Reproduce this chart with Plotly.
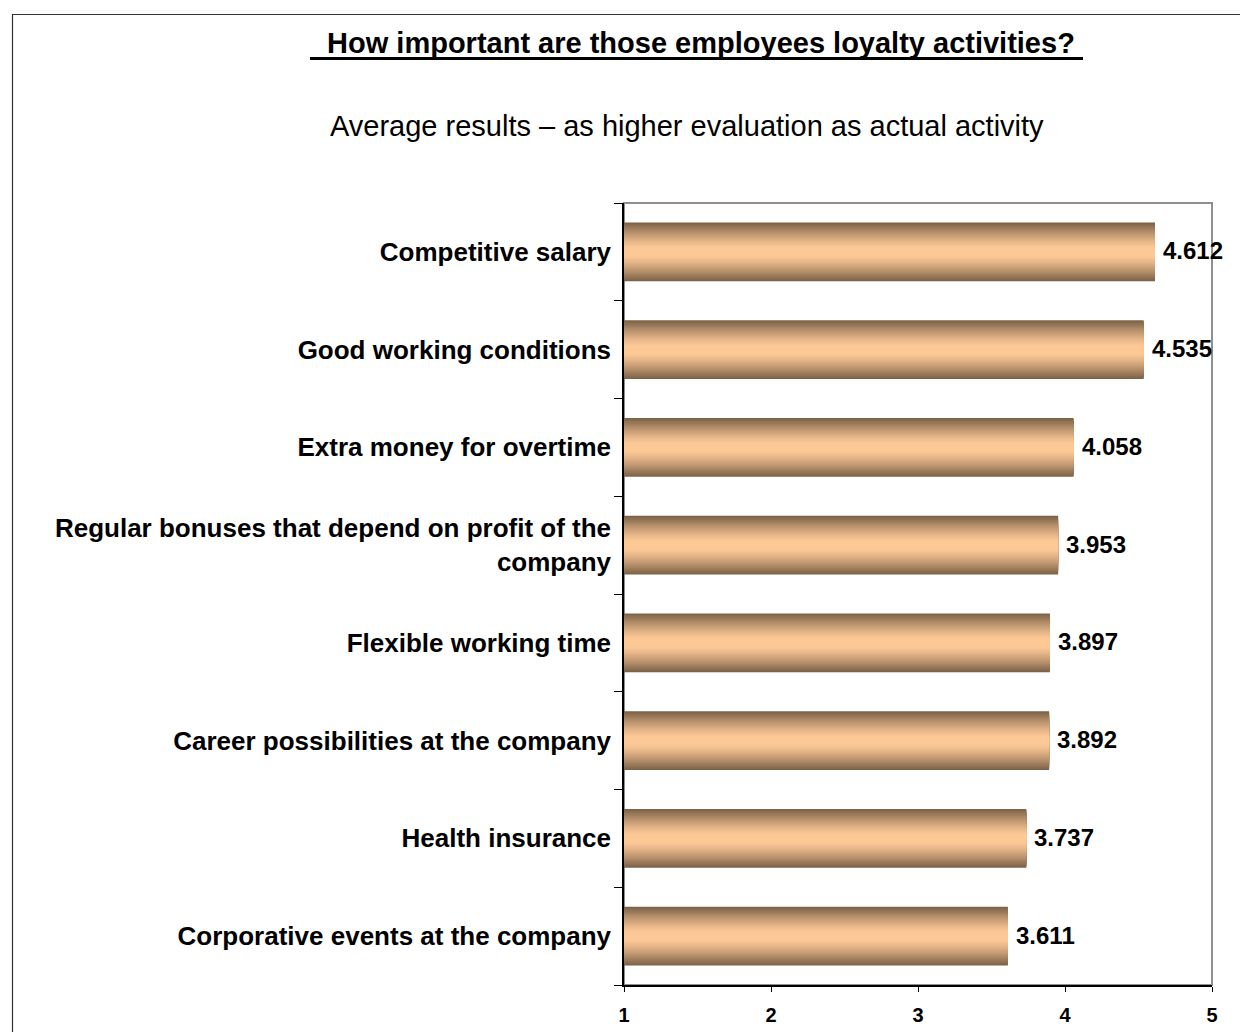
import plotly.graph_objects as go

# Survey results: average importance score per loyalty activity
activities = [
    "Competitive salary",
    "Good working conditions",
    "Extra money for overtime",
    "Regular bonuses that depend on profit of the<br>company",
    "Flexible working time",
    "Career possibilities at the company",
    "Health insurance",
    "Corporative events at the company",
]
scores = [4.612, 4.535, 4.058, 3.953, 3.897, 3.892, 3.737, 3.611]
score_labels = ["4.612", "4.535", "4.058", "3.953", "3.897", "3.892", "3.737", "3.611"]
x_ticks = [1, 2, 3, 4, 5]
axis_origin = 1

title_text = " How important are those employees loyalty activities?"
subtitle_text = "Average results \u2013 as higher evaluation as actual activity"

# Page geometry (pixels)
W, H = 1240, 1032
L, R, T, B = 624, 28, 203, 47
PW, PH = W - L - R, H - T - B


def px_x(px):
    return (px - L) / PW


def px_y(py):
    return (H - B - py) / PH


FONT = "Liberation Sans, Arial, sans-serif"
LIGHT = (252, 200, 150)
DARK = (125, 98, 72)
BAR_WIDTH = 0.6
N_LAYERS = 30


def shade(d):
    """Colour at normalised distance d (0 = bar centre, 1 = bar edge)."""
    t = max(0.0, (d - 0.15) / 0.85)
    t = t ** 1.25
    r, g, b = (round(LIGHT[i] + (DARK[i] - LIGHT[i]) * t) for i in range(3))
    return f"rgb({r},{g},{b})"


fig = go.Figure()

# Nested bars of shrinking thickness give a metallic vertical gradient
for k in range(N_LAYERS):
    d = 1 - k / N_LAYERS
    fig.add_trace(go.Bar(
        x=[v - axis_origin for v in scores],
        y=activities,
        base=axis_origin,
        orientation="h",
        width=BAR_WIDTH * d,
        marker=dict(color=shade(d), line=dict(width=0)),
        showlegend=False,
        hoverinfo="skip",
    ))

for cat, val, lab in zip(activities, scores, score_labels):
    fig.add_annotation(
        x=val, y=cat, xref="x", yref="y",
        text=f"<b>{lab}</b>", showarrow=False,
        xanchor="left", yanchor="middle", xshift=6, yshift=1,
        font=dict(family=FONT, size=24, color="black"),
    )

# Title, underline and subtitle
fig.add_annotation(
    x=px_x(697), y=px_y(43), xref="paper", yref="paper",
    text=f"<b>{title_text}</b>", showarrow=False,
    xanchor="center", yanchor="middle",
    font=dict(family=FONT, size=29, color="black"),
)
fig.add_shape(
    type="line", xref="paper", yref="paper",
    x0=px_x(310), x1=px_x(1083), y0=px_y(58.5), y1=px_y(58.5),
    line=dict(color="black", width=3),
)
fig.add_annotation(
    x=px_x(687), y=px_y(126), xref="paper", yref="paper",
    text=subtitle_text, showarrow=False,
    xanchor="center", yanchor="middle",
    font=dict(family=FONT, size=29, color="black"),
)

# Plot-area frame (grey) and outer chart border
fig.add_shape(
    type="rect", xref="paper", yref="paper",
    x0=0, x1=1, y0=0, y1=1, layer="below",
    line=dict(color="#8f8f8f", width=2),
)
fig.add_shape(
    type="rect", xref="paper", yref="paper",
    x0=px_x(12.5), x1=px_x(1260), y0=px_y(1060), y1=px_y(14.5),
    line=dict(color="#333333", width=1.2),
)

fig.update_layout(
    width=W, height=H,
    margin=dict(l=L, r=R, t=T, b=B, pad=0, autoexpand=False),
    paper_bgcolor="white", plot_bgcolor="white",
    barmode="overlay",
    font=dict(family=FONT, color="black"),
    xaxis=dict(
        range=[1, 5], tickvals=x_ticks, ticktext=[f"<b>{v}</b>" for v in x_ticks],
        showgrid=False, zeroline=False, automargin=False,
        showline=True, linecolor="black", linewidth=1.5,
        ticks="outside", ticklen=5, tickwidth=1.2, tickcolor="black",
        ticklabelstandoff=6,
        tickfont=dict(family=FONT, size=20, color="black"),
    ),
    yaxis=dict(
        type="category", categoryorder="array", categoryarray=activities,
        range=[len(activities) - 0.5, -0.5],
        tickvals=activities,
        ticktext=[f"<b>{a}</b>" for a in activities],
        tickson="boundaries", automargin=False,
        showgrid=False, zeroline=False,
        showline=True, linecolor="black", linewidth=1.5,
        ticks="outside", ticklen=8, tickwidth=1.2, tickcolor="black",
        ticklabelstandoff=6,
        tickfont=dict(family=FONT, size=26, color="black"),
    ),
)

fig.write_html("out.html")
